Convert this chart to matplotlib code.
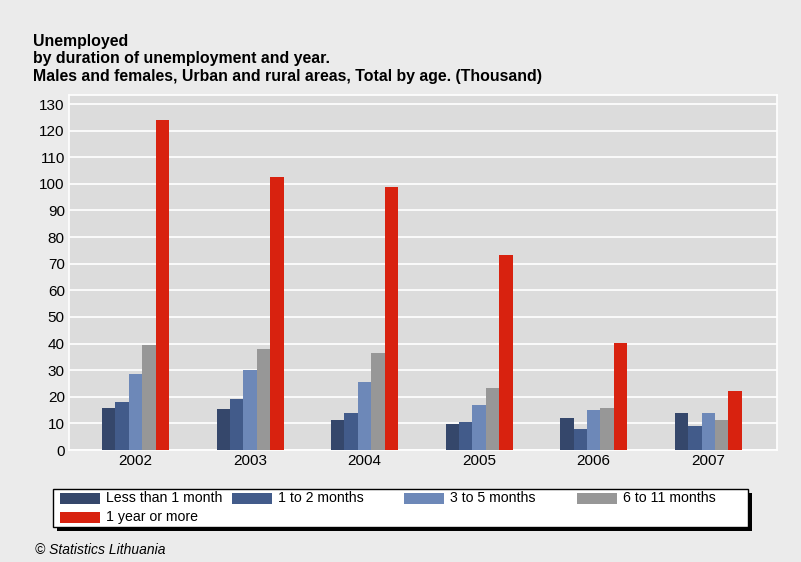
import numpy as np
import matplotlib
matplotlib.use('Agg')
from matplotlib import pyplot as plt
from matplotlib.patches import Rectangle

# data (thousand persons)
years = ['2002', '2003', '2004', '2005', '2006', '2007']
less_1m = [15.9, 15.4, 11.1, 9.6, 12.1, 13.8]
m1_2 = [18.0, 19.0, 13.8, 10.6, 8.0, 9.1]
m3_5 = [28.6, 30.2, 25.4, 17.0, 14.9, 13.8]
m6_11 = [39.6, 38.1, 36.4, 23.3, 15.9, 11.1]
y1_more = [124.1, 102.6, 98.9, 73.1, 40.1, 22.3]

series_names = ['Less than 1 month', '1 to 2 months', '3 to 5 months',
                '6 to 11 months', '1 year or more']
colors = ['#35476b', '#425b8a', '#6d88b8', '#979797', '#d8220f']
series = [less_1m, m1_2, m3_5, m6_11, y1_more]

plt.rcParams['font.family'] = ['Liberation Sans', 'DejaVu Sans']

W, H = 801, 562
fig = plt.figure(figsize=(W/100, H/100), dpi=100, facecolor='#ebebeb')

def fx(px):
    return px / W

def fy(py):
    return 1 - py / H

ax = fig.add_axes([fx(69), fy(450), fx(708), 355/H])
ax.set_facecolor('#dcdcdc')

x = np.arange(len(years))
w = 0.117
for i, (vals, c) in enumerate(zip(series, colors)):
    ax.bar(x + (i - 2) * w, vals, width=w, color=c, zorder=3)

ax.set_xlim(-0.58, 5.6)
ax.set_ylim(0, 133.4)
ax.set_yticks(np.arange(0, 131, 10))
ax.set_xticks(x)
ax.set_xticklabels(years)
ax.tick_params(length=0, labelsize=11, pad=3)
ax.grid(axis='y', color='white', linewidth=1.2, zorder=0)
ax.set_axisbelow(True)
for s in ax.spines.values():
    s.set_color('white')
    s.set_linewidth(1.2)

# title block
title_lines = ['Unemployed', 'by duration of unemployment and year.',
               'Males and females, Urban and rural areas, Total by age. (Thousand)']
for k, line in enumerate(title_lines):
    fig.text(fx(33), fy(46 + 17.5 * k), line, fontsize=11.4, fontweight='bold',
             va='baseline', ha='left')

# legend box drawn by hand: equal-width columns like the original
tr = fig.transFigure
fig.add_artist(Rectangle((fx(57), fy(531)), fx(695), 38/H, transform=tr,
                         facecolor='black', edgecolor='none'))
fig.add_artist(Rectangle((fx(53), fy(527)), fx(695), 38/H, transform=tr,
                         facecolor='white', edgecolor='black', linewidth=1.0))
col_x = [60, 232, 404, 577]
row_y = [498, 517]
for i, name in enumerate(series_names):
    px = col_x[i % 4]
    py = row_y[i // 4]
    fig.add_artist(Rectangle((fx(px), fy(py + 5.5)), fx(40), 11/H, transform=tr,
                             facecolor=colors[i], edgecolor='none'))
    fig.text(fx(px + 46), fy(py), name, fontsize=10.2, va='center', ha='left')

fig.text(fx(35), fy(550), '© Statistics Lithuania', fontsize=10,
         style='italic', va='center', ha='left')

plt.savefig('out.png', dpi=100, facecolor=fig.get_facecolor())
